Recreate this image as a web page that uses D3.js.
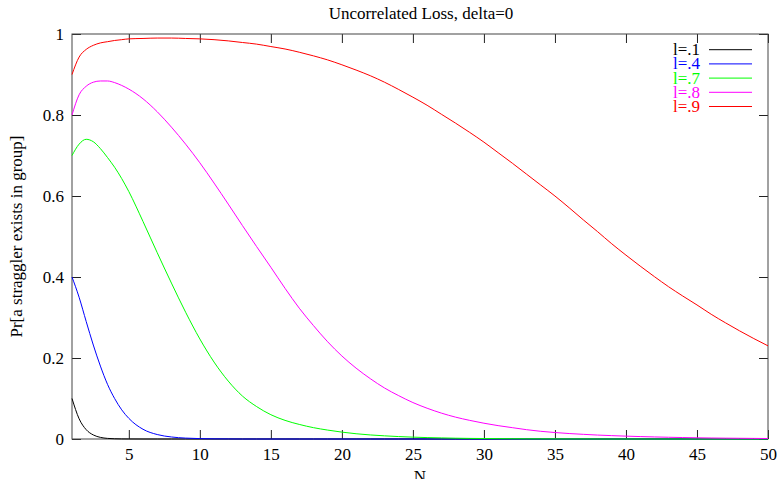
<!DOCTYPE html>
<html>
<head>
<meta charset="utf-8">
<script src="https://cdn.jsdelivr.net/npm/d3@7/dist/d3.min.js"></script>
<style>
  html, body { margin: 0; padding: 0; background: #fff; }
  svg { display: block; }
  text { font-family: "Liberation Serif", "Times New Roman", serif; }
</style>
</head>
<body>
<svg id="chart" width="778" height="479"></svg>
<script>
// Group size N at which each curve is sampled
const groupSize = [1, 1.5, 2, 2.5, 3, 3.5, 4, 4.5, 5,
  6, 7, 8, 9, 10, 11, 12, 13, 14, 15, 16, 17, 18, 19, 20,
  21, 22, 23, 24, 25, 26, 27, 28, 29, 30, 31, 32, 33, 34, 35,
  36, 37, 38, 39, 40, 41, 42, 43, 44, 45, 46, 47, 48, 49, 50];

// Pr[a straggler exists in group] for each loss rate l
const loss01 = [0.100, 0.050, 0.023, 0.010, 0.004, 0.0015, 0.0006, 0.0002, 0.0001,
  0, 0, 0, 0, 0, 0, 0, 0, 0, 0, 0, 0, 0, 0, 0,
  0, 0, 0, 0, 0, 0, 0, 0, 0, 0, 0, 0, 0, 0, 0,
  0, 0, 0, 0, 0, 0, 0, 0, 0, 0, 0, 0, 0, 0, 0];
const loss04 = [0.400, 0.350, 0.290, 0.232, 0.180, 0.135, 0.100, 0.072, 0.051,
  0.024, 0.011, 0.005, 0.0022, 0.001, 0.0004, 0.0002, 0, 0, 0, 0, 0, 0, 0, 0,
  0, 0, 0, 0, 0, 0, 0, 0, 0, 0, 0, 0, 0, 0, 0,
  0, 0, 0, 0, 0, 0, 0, 0, 0, 0, 0, 0, 0, 0, 0];
const loss07 = [0.700, 0.728, 0.740, 0.734, 0.717, 0.695, 0.671, 0.643, 0.611,
  0.537, 0.460, 0.385, 0.313, 0.247, 0.190, 0.143, 0.106, 0.080, 0.060, 0.046, 0.036, 0.028, 0.022, 0.017,
  0.013, 0.010, 0.0078, 0.006, 0.0046, 0.0035, 0.0027, 0.002, 0.0015, 0.0012, 0.0009, 0.0007, 0.0005, 0.0004, 0.0003,
  0.0002, 0.0002, 0.0001, 0, 0, 0, 0, 0, 0, 0, 0, 0, 0, 0, 0];
const loss08 = [0.800, 0.850, 0.871, 0.881, 0.884, 0.884, 0.880, 0.873, 0.864,
  0.840, 0.808, 0.770, 0.728, 0.682, 0.632, 0.580, 0.527, 0.475, 0.424, 0.372, 0.323, 0.280, 0.240, 0.205,
  0.175, 0.149, 0.126, 0.107, 0.090, 0.076, 0.064, 0.054, 0.046, 0.039, 0.033, 0.028, 0.023, 0.019, 0.016,
  0.0135, 0.0115, 0.0097, 0.0083, 0.0071, 0.006, 0.0051, 0.0043, 0.0036, 0.003, 0.0025, 0.0021, 0.0018, 0.0015, 0.0012];
const loss09 = [0.900, 0.943, 0.962, 0.972, 0.978, 0.981, 0.984, 0.986, 0.988,
  0.989, 0.990, 0.990, 0.989, 0.988, 0.986, 0.983, 0.979, 0.975, 0.969, 0.963, 0.955, 0.946, 0.936, 0.924,
  0.911, 0.897, 0.881, 0.863, 0.844, 0.824, 0.802, 0.780, 0.757, 0.733, 0.707, 0.681, 0.654, 0.627, 0.600,
  0.571, 0.541, 0.512, 0.482, 0.454, 0.427, 0.401, 0.376, 0.353, 0.331, 0.308, 0.287, 0.267, 0.248, 0.230];

const seriesLabels = ["l=.1", "l=.4", "l=.7", "l=.8", "l=.9"];
const seriesValues = [loss01, loss04, loss07, loss08, loss09];
const seriesColors = ["#000000", "#0000ff", "#00ff00", "#ff00ff", "#ff0000"];

const xTickValues = [5, 10, 15, 20, 25, 30, 35, 40, 45, 50];
const yTickValues = [0, 0.2, 0.4, 0.6, 0.8, 1];
const yTickLabels = ["0", "0.2", "0.4", "0.6", "0.8", "1"];

const titleText = "Uncorrelated Loss, delta=0";
const xTitle = "N";
const yTitle = "Pr[a straggler exists in group]";

// Layout
const plot = { left: 72, right: 768, top: 34, bottom: 439 };
const svg = d3.select("#chart");

const x = d3.scaleLinear().domain([1, 50]).range([plot.left, plot.right]);
const y = d3.scaleLinear().domain([0, 1]).range([plot.bottom, plot.top]);

const fontSize = 17;

// Title
svg.append("text")
  .attr("x", 421).attr("y", 19)
  .attr("text-anchor", "middle")
  .attr("font-size", fontSize)
  .attr("fill", "#000")
  .text(titleText);

// Axes with inward ticks (mirrored on top and right)
const gLeft = svg.append("g").attr("transform", `translate(${plot.left},0)`)
  .call(d3.axisLeft(y).tickValues(yTickValues)
    .tickFormat((d, i) => yTickLabels[i]).tickSize(-9).tickPadding(8));
const gRight = svg.append("g").attr("transform", `translate(${plot.right},0)`)
  .call(d3.axisRight(y).tickValues(yTickValues).tickFormat("").tickSize(-9));
const gBottom = svg.append("g").attr("transform", `translate(0,${plot.bottom})`)
  .call(d3.axisBottom(x).tickValues(xTickValues).tickSize(-9).tickPadding(9));
const gTop = svg.append("g").attr("transform", `translate(0,${plot.top})`)
  .call(d3.axisTop(x).tickValues(xTickValues).tickFormat("").tickSize(-9));

[gLeft, gRight, gBottom, gTop].forEach(g => {
  g.select(".domain").remove();
  g.selectAll(".tick line").attr("stroke", "#222").attr("stroke-width", 1);
  g.selectAll(".tick text")
    .attr("font-family", "Liberation Serif, serif")
    .attr("font-size", fontSize)
    .attr("fill", "#000");
});

// Frame
svg.append("rect")
  .attr("x", plot.left).attr("y", plot.top)
  .attr("width", plot.right - plot.left)
  .attr("height", plot.bottom - plot.top)
  .attr("fill", "none")
  .attr("stroke", "#444")
  .attr("stroke-width", 1);

// Axis titles
svg.append("text")
  .attr("x", 420).attr("y", 482)
  .attr("text-anchor", "middle")
  .attr("font-size", fontSize)
  .text(xTitle);

svg.append("text")
  .attr("transform", `translate(22,${(plot.top + plot.bottom) / 2}) rotate(-90)`)
  .attr("text-anchor", "middle")
  .attr("font-size", fontSize)
  .text(yTitle);

// Curves
const line = d3.line()
  .x(d => x(d[0]))
  .y(d => y(d[1]))
  .curve(d3.curveMonotoneX);

seriesValues.forEach((vals, i) => {
  const pts = groupSize.map((n, j) => [n, vals[j]]);
  svg.append("path")
    .datum(pts)
    .attr("d", line)
    .attr("fill", "none")
    .attr("stroke", seriesColors[i])
    .attr("stroke-width", 1);
});

// Legend
const legend = { textRight: 700, lineX1: 709, lineX2: 752, firstY: 49.7, step: 14.2 };
seriesLabels.forEach((lab, i) => {
  const ly = legend.firstY + i * legend.step;
  svg.append("text")
    .attr("x", legend.textRight).attr("y", ly + 5.5)
    .attr("text-anchor", "end")
    .attr("font-size", fontSize)
    .attr("fill", seriesColors[i])
    .text(lab);
  svg.append("line")
    .attr("x1", legend.lineX1).attr("x2", legend.lineX2)
    .attr("y1", ly).attr("y2", ly)
    .attr("stroke", seriesColors[i])
    .attr("stroke-width", 1);
});
</script>
</body>
</html>
